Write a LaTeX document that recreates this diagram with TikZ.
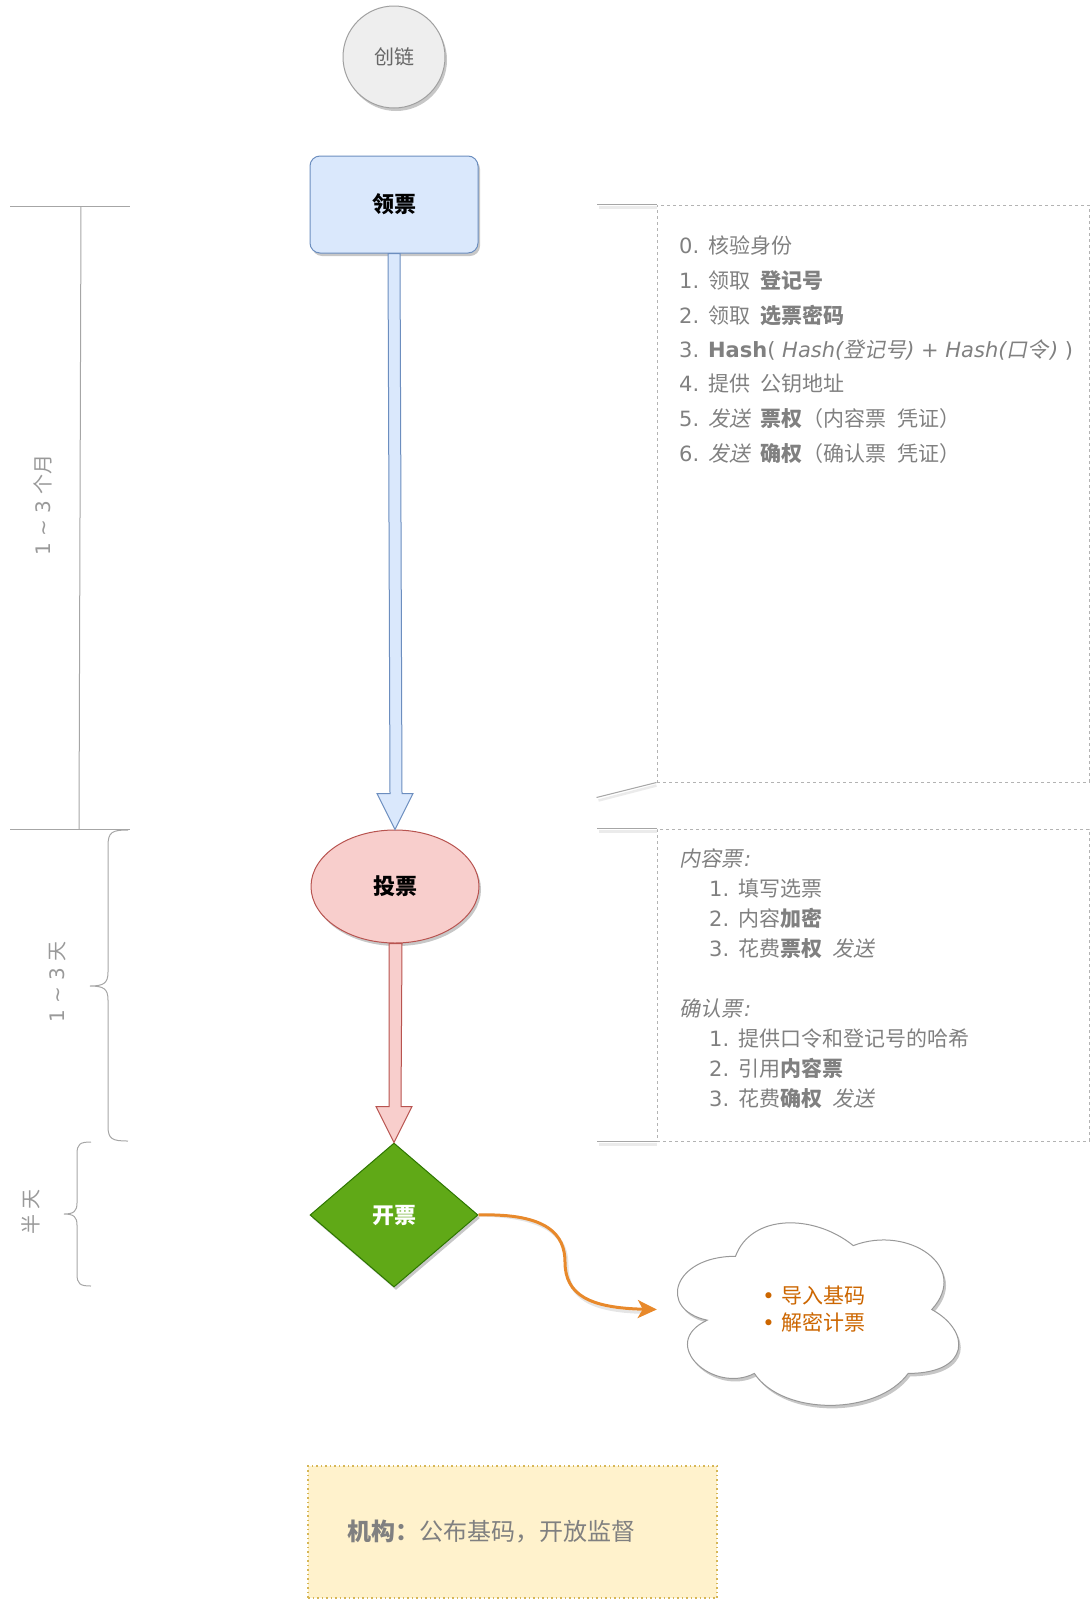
\documentclass[tikz,border=0pt]{standalone}
\usepackage{fontspec}
\setmainfont{Noto Sans CJK SC}[ItalicFont={Noto Sans CJK SC}, ItalicFeatures={FakeSlant=0.2}]
\newfontfamily\LTf{DejaVu Sans}
\newcommand\LT[1]{{\LTf #1}}
\newcommand\gap{\hspace{0.5em}}
\usetikzlibrary{shapes.geometric, arrows.meta, calc, shadows}
\definecolor{txtgray}{HTML}{808080}
\definecolor{lblgray}{HTML}{999999}
\definecolor{linegray}{HTML}{A6A6A6}
\definecolor{dashgray}{HTML}{B3B3B3}
\definecolor{blueF}{HTML}{DAE8FC}
\definecolor{blueD}{HTML}{6C8EBF}
\definecolor{redF}{HTML}{F8CECC}
\definecolor{redD}{HTML}{B85450}
\definecolor{greenF}{HTML}{60A917}
\definecolor{greenD}{HTML}{2D7600}
\definecolor{circF}{HTML}{EEEEEE}
\definecolor{circD}{HTML}{A0A0A0}
\definecolor{yelF}{HTML}{FFF2CC}
\definecolor{yelD}{HTML}{D6B656}
\definecolor{orangeL}{HTML}{E8892B}
\definecolor{orangeT}{HTML}{CC6600}
\definecolor{circT}{HTML}{666666}
\tikzset{
  shad/.style={drop shadow={shadow xshift=2pt, shadow yshift=-3pt, opacity=0.22, fill=black}},
  rulerln/.style={draw=linegray, line width=1pt},
  solidln/.style={draw=linegray, line width=1pt},
  solidshad/.style={draw=black!8, line width=2.5pt},
  dashbox/.style={draw=dashgray, dash pattern=on 3pt off 3pt, line width=1pt, minimum width=432pt, inner sep=0pt},
  lbl/.style={font=\fontsize{20}{24}\selectfont, text=lblgray, rotate=90, inner sep=0pt},
  tline/.style={font=\fontsize{21}{25}\selectfont, text=txtgray, inner sep=0pt, anchor=base west},
  shapetxt/.style={font=\fontsize{22}{26}\selectfont\bfseries},
  flexblue/.style={fill=blueF, draw=blueD, line width=1pt, line join=miter},
  flexred/.style={fill=redF, draw=redD, line width=1pt, line join=miter},
}
\begin{document}
\begin{tikzpicture}[x=1pt,y=-1pt]
\useasboundingbox (0,0) rectangle (1091,1601);

% ---- time ruler on the left
\draw[rulerln] (10,206) -- (130,206);
\draw[rulerln] (81,206) -- (79,829);
\draw[rulerln] (10,829) -- (130,829);
\draw[rulerln] (128,830) .. controls (112,830) and (108,832) .. (108,846) -- (108,972)
   .. controls (108,983) and (104,986) .. (90,986)
   .. controls (104,986) and (108,989) .. (108,1000) -- (108,1126)
   .. controls (108,1139) and (112,1141) .. (128,1141);
\draw[rulerln] (91,1142) .. controls (80,1142) and (77,1144) .. (77,1154) -- (77,1203)
   .. controls (77,1211) and (74,1214) .. (64,1214)
   .. controls (74,1214) and (77,1217) .. (77,1225) -- (77,1274)
   .. controls (77,1284) and (80,1286) .. (91,1286);
\node[lbl] (lab1) at (43,505) {\LT{1 \textasciitilde\ 3 }个月};
\node[lbl] (lab2) at (58,982) {\LT{1 \textasciitilde\ 3 }天};
\node[lbl] (lab3) at (31,1212) {半 天};

% ---- main flow
\node[circle, minimum size=102pt, inner sep=0pt, fill=circF, draw=circD, line width=1pt, shad,
      font=\fontsize{20}{24}\selectfont, text=circT] (start) at (394,57) {创链};
\node[rectangle, rounded corners=10pt, minimum width=168pt, minimum height=97pt, inner sep=0pt,
      fill=blueF, draw=blueD, line width=1pt, shad, shapetxt] (lp) at (394,204.5) {领票};
\node[ellipse, minimum width=168pt, minimum height=113pt, inner sep=0pt,
      fill=redF, draw=redD, line width=1pt, shad, shapetxt] (tp) at (395,886.5) {投票};
\node[diamond, minimum width=168pt, minimum height=144pt, inner sep=0pt,
      fill=greenF, draw=greenD, line width=1pt, shad, shapetxt, text=white] (kp) at (394,1215) {开票};

\draw[flexblue] ($(lp.south)+(-6,0)$) -- ($(tp.north)+(-5,-36)$) -- ($(tp.north)+(-18,-36)$)
   -- (tp.north) -- ($(tp.north)+(18,-36)$) -- ($(tp.north)+(7,-36)$) -- ($(lp.south)+(6,0)$) -- cycle;
\draw[flexred] ($(tp.south)+(-6,0)$) -- ($(kp.north)+(-5,-36)$) -- ($(kp.north)+(-18,-36)$)
   -- (kp.north) -- ($(kp.north)+(18,-36)$) -- ($(kp.north)+(7,-36)$) -- ($(tp.south)+(7,0)$) -- cycle;

% ---- cloud
\coordinate (clo) at (657,1203);
\begin{scope}[shift={(clo)}]
\path[fill=white, draw=lblgray, line width=1pt, shad]
  (78.5,53.25) .. controls (15.7,53.25) and (0,106.5) .. (50.24,117.15)
  .. controls (0,140.58) and (56.52,191.7) .. (97.34,170.4)
  .. controls (125.6,213) and (219.8,213) .. (251.2,170.4)
  .. controls (314,170.4) and (314,127.8) .. (274.75,106.5)
  .. controls (314,63.9) and (251.2,21.3) .. (196.25,42.6)
  .. controls (157,10.65) and (94.2,10.65) .. (78.5,53.25) -- cycle;
\end{scope}
\node[minimum width=314pt, minimum height=213pt, inner sep=0pt, align=left,
      font=\fontsize{21}{27}\selectfont, text=orangeT] (cl) at (814,1309.5) {\LT{• }导入基码\\\LT{• }解密计票};

\draw[draw=black!10, line width=3pt, shift={(2pt,-3pt)}] (kp.east) .. controls (548,1213) and (565,1235) .. (565,1262)
   .. controls (565,1295) and (590,1308) .. (640,1309.3);
\draw[orangeL, line width=3pt, -{Stealth[length=19pt, width=18pt, inset=5pt]}]
   (kp.east) .. controls (548,1213) and (565,1235) .. (565,1262)
   .. controls (565,1295) and (590,1308) .. (cl.west);

% ---- note boxes
\node[dashbox, minimum height=577pt] (b1) at (873,493.5) {};
\node[dashbox, minimum height=312pt] (b2) at (873,985) {};
\draw[solidshad] ($(b1.north west)+(0,3)$) -- ++(-58,0);
\draw[solidln] (b1.north west) -- ++(-60,0);
\draw[solidshad] ($(b1.south west)+(0,3)$) -- ++(-58,15);
\draw[solidln] (b1.south west) -- ++(-60,15);
\draw[solidshad] ($(b2.north west)+(0,3)$) -- ++(-58,0);
\draw[solidln] (b2.north west) -- ++(-60,0);
\draw[solidshad] ($(b2.south west)+(0,3)$) -- ++(-58,0);
\draw[solidln] (b2.south west) -- ++(-60,0);

\node[tline] (a0) at (679,253) {\LT{0. }核验身份};
\node[tline] (a1) at (679,288) {\LT{1. }领取\gap\textbf{登记号}};
\node[tline] (a2) at (679,323) {\LT{2. }领取\gap\textbf{选票密码}};
\node[tline] (a3) at (679,357) {\LT{3. }\LT{\bfseries Hash}\LT{( }\LT{\itshape Hash(}\textit{登记号}\LT{\itshape ) + Hash(}\textit{口令}\hspace{1.5pt}\LT{\itshape )}\LT{ )}};
\node[tline] (a4) at (679,391) {\LT{4. }提供\gap 公钥地址};
\node[tline] (a5) at (679,426) {\LT{5. }\textit{发送}\gap\textbf{票权}（内容票\gap 凭证）};
\node[tline] (a6) at (679,461) {\LT{6. }\textit{发送}\gap\textbf{确权}（确认票\gap 凭证）};

\node[tline] (c0) at (679,866) {\textit{内容票}\hspace{2pt}\LT{\itshape :}};
\node[tline] (c1) at (709,896) {\LT{1. }填写选票};
\node[tline] (c2) at (709,926) {\LT{2. }内容\textbf{加密}};
\node[tline] (c3) at (709,956) {\LT{3. }花费\textbf{票权}\gap\textit{发送}};
\node[tline] (d0) at (679,1016) {\textit{确认票}\hspace{2pt}\LT{\itshape :}};
\node[tline] (d1) at (709,1046) {\LT{1. }提供口令和登记号的哈希};
\node[tline] (d2) at (709,1076) {\LT{2. }引用\textbf{内容票}};
\node[tline] (d3) at (709,1106) {\LT{3. }花费\textbf{确权}\gap\textit{发送}};

% ---- bottom box
\node[rectangle, minimum width=409pt, minimum height=132pt, inner sep=0pt, fill=yelF, draw=yelD,
      line width=1.5pt, dash pattern=on 1.5pt off 3pt, text width=331pt, align=left,
      font=\fontsize{24}{28}\selectfont, text=txtgray] (jg) at (512.5,1532) {\textbf{机构：}公布基码，开放监督};
\end{tikzpicture}
\end{document}
